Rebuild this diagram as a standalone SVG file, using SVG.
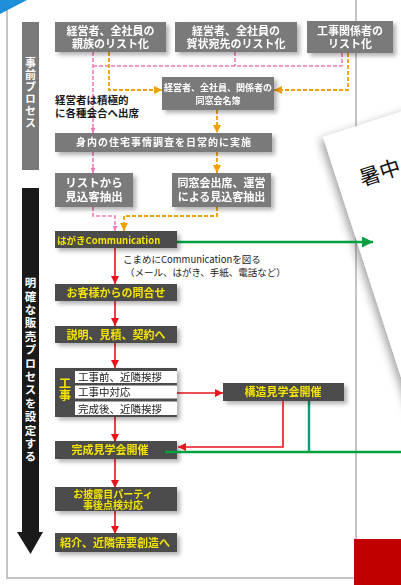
<svg xmlns="http://www.w3.org/2000/svg" width="401" height="585" viewBox="0 0 401 585">
<style>
text{font-family:"Noto Sans CJK JP","Noto Sans",sans-serif}
.g{fill:#7a7a7a}
.d{fill:#4b4b4b}
.wt{fill:#fff;font-weight:bold;text-anchor:middle}
.yt{fill:#f4e400;font-weight:bold;text-anchor:middle}
.bt{fill:#1a1a1a}
.vt{writing-mode:vertical-rl;text-anchor:start}
.pk{fill:none;stroke:#f07ab4;stroke-width:1.6;stroke-dasharray:4 2}
.or{fill:none;stroke:#f0a000;stroke-width:1.8;stroke-dasharray:4 2}
.rd{fill:none;stroke:#e8141e;stroke-width:1.6}
.gr{fill:none;stroke:#00a040;stroke-width:2.6}
.tl{fill:none;stroke:#00a078;stroke-width:2.4}
</style>
<defs>
<filter id="sh" x="-10%" y="-20%" width="130%" height="160%">
<feDropShadow dx="3" dy="3" stdDeviation="2" flood-color="#000" flood-opacity="0.3"/>
</filter>
<filter id="csh" x="-30%" y="-10%" width="160%" height="130%">
<feDropShadow dx="-4" dy="2" stdDeviation="4" flood-color="#000" flood-opacity="0.35"/>
</filter>
<marker id="ap" viewBox="0 0 10 10" refX="10" refY="5" markerWidth="5" markerHeight="5" orient="auto" markerUnits="userSpaceOnUse"><path d="M0,0 L10,5 L0,10 z" fill="#f07ab4"/></marker>
<marker id="ao" viewBox="0 0 10 10" refX="10" refY="5" markerWidth="8" markerHeight="8" orient="auto" markerUnits="userSpaceOnUse"><path d="M0,0 L10,5 L0,10 z" fill="#f0a000"/></marker>
<marker id="ar" viewBox="0 0 10 10" refX="10" refY="5" markerWidth="9" markerHeight="8" orient="auto" markerUnits="userSpaceOnUse"><path d="M0,0 L10,5 L0,10 z" fill="#e8141e"/></marker>
<marker id="ag" viewBox="0 0 10 10" refX="10" refY="5" markerWidth="17" markerHeight="11" orient="auto" markerUnits="userSpaceOnUse"><path d="M0,0 L10,5 L0,10 z" fill="#00a040"/></marker>
</defs>
<rect width="401" height="585" fill="#fff"/>
<!-- frame -->
<rect x="7" y="-10" width="349" height="588" fill="#fff" stroke="#c4c4c4" stroke-width="2"/>
<path d="M0,0 H27 L0,14 z" fill="#1e8fd8"/>

<!-- postcard -->
<g id="postcard">
<g transform="translate(323,137) rotate(-18)">
<rect x="0" y="0" width="200" height="520" fill="#fff" filter="url(#csh)"/>
<text x="22" y="59" font-size="21" fill="#111">暑中</text>
</g>
</g>
<rect x="354" y="539" width="47" height="46" fill="#c00000"/>

<!-- left bars -->
<g id="bar-pre">
<rect x="22" y="22" width="17" height="148" fill="#7a7a7a"/>
<text class="wt vt" font-size="11" letter-spacing="1" x="30.5" y="57.5">事前プロセス</text>
</g>
<g id="bar-main">
<path d="M22,188 H39 V532 H43 L30.5,554 L17,532 H22 z" fill="#1a1a1a"/>
<text class="wt vt" font-size="11.5" letter-spacing="1.9" x="30.5" y="277">明確な販売プロセスを設定する</text>
</g>

<!-- connectors -->
<g id="connectors">
<path class="pk" d="M93,52 V133" marker-end="url(#ap)"/>
<path class="pk" d="M93,66 H342 M235,52 V66 M342,53 V66"/>
<path class="pk" d="M93,152 V173" marker-end="url(#ap)"/>
<path class="pk" d="M93,207 V216 H115 V231" marker-end="url(#ap)"/>
<path class="or" d="M109,52 V90 H162" marker-end="url(#ao)"/>
<path class="or" d="M348,53 V90 H274" marker-end="url(#ao)"/>
<path class="or" d="M217,110 V133" marker-end="url(#ao)"/>
<path class="or" d="M217,152 V173" marker-end="url(#ao)"/>
<path class="or" d="M217,207 V216 H124 V231" marker-end="url(#ao)"/>
<path class="rd" d="M115,248 V284" marker-end="url(#ar)"/>
<path class="rd" d="M115,301 V326" marker-end="url(#ar)"/>
<path class="rd" d="M115,343 V368" marker-end="url(#ar)"/>
<path class="rd" d="M177,393 H223" marker-end="url(#ar)"/>
<path class="rd" d="M115,417 V442" marker-end="url(#ar)"/>
<path class="rd" d="M115,459 V488" marker-end="url(#ar)"/>
<path class="rd" d="M115,511 V534" marker-end="url(#ar)"/>
<path class="gr" d="M177,242 H373" marker-end="url(#ag)"/>
<path class="tl" d="M309,401 V452"/>
</g>

<text class="bt" font-size="10.5" font-weight="bold"><tspan x="55" y="104">経営者は積極的</tspan><tspan x="55" y="117">に各種会合へ出席</tspan></text>

<!-- nodes -->
<g id="n1" filter="url(#sh)"><rect class="g" x="55" y="22" width="111" height="30"/>
<text class="wt" font-size="11"><tspan x="110.5" y="34.5">経営者、全社員の</tspan><tspan x="110.5" y="48">親族のリスト化</tspan></text></g>
<g id="n2" filter="url(#sh)"><rect class="g" x="175" y="22" width="122" height="30"/>
<text class="wt" font-size="11"><tspan x="236" y="34.5">経営者、全社員の</tspan><tspan x="236" y="48">賀状宛先のリスト化</tspan></text></g>
<g id="n3" filter="url(#sh)"><rect class="g" x="307" y="21" width="86" height="32"/>
<text class="wt" font-size="11"><tspan x="350" y="34.5">工事関係者の</tspan><tspan x="350" y="48">リスト化</tspan></text></g>
<g id="n4" filter="url(#sh)"><rect class="g" x="162" y="77" width="112" height="33"/>
<text class="wt" font-size="9"><tspan x="218" y="91">経営者、全社員、関係者の</tspan><tspan x="218" y="104">同窓会名簿</tspan></text></g>
<g id="n5" filter="url(#sh)"><rect class="g" x="55" y="133" width="217" height="19"/>
<text class="wt" font-size="10" letter-spacing="1"><tspan x="164" y="146">身内の住宅事情調査を日常的に実施</tspan></text></g>
<g id="n6" filter="url(#sh)"><rect class="g" x="55" y="173" width="78" height="34"/>
<text class="wt" font-size="11.5"><tspan x="94" y="187">リストから</tspan><tspan x="94" y="201">見込客抽出</tspan></text></g>
<g id="n7" filter="url(#sh)"><rect class="g" x="172" y="173" width="99" height="34"/>
<text class="wt" font-size="11"><tspan x="221.5" y="187">同窓会出席、運営</tspan><tspan x="221.5" y="201">による見込客抽出</tspan></text></g>
<g id="n8" filter="url(#sh)"><rect class="d" x="55" y="231" width="122" height="17"/>
<text class="yt" font-size="9.5" style="text-anchor:start"><tspan x="57" y="243.5">はがきCommunication</tspan></text></g>
<text class="bt" font-size="9.5"><tspan x="123" y="263">こまめにCommunicationを図る</tspan><tspan x="125" y="276">（メール、はがき、手紙、電話など）</tspan></text>
<g id="n9" filter="url(#sh)"><rect class="d" x="55" y="284" width="122" height="17"/>
<text class="yt" font-size="11"><tspan x="116" y="296.5">お客様からの問合せ</tspan></text></g>
<g id="n10" filter="url(#sh)"><rect class="d" x="55" y="326" width="122" height="17"/>
<text class="yt" font-size="11"><tspan x="116" y="338.5">説明、見積、契約へ</tspan></text></g>
<g id="n11" filter="url(#sh)"><rect class="d" x="55" y="368" width="122" height="49"/>
<rect x="75" y="371" width="102" height="12" fill="#fff"/>
<rect x="75" y="385.5" width="102" height="13" fill="#fff"/>
<rect x="75" y="401.5" width="102" height="13.5" fill="#fff"/>
<text class="yt vt" font-size="12" x="65" y="377">工事</text>
<text class="bt" font-size="10.5"><tspan x="78" y="381">工事前、近隣挨拶</tspan><tspan x="78" y="396">工事中対応</tspan><tspan x="78" y="412.5">完成後、近隣挨拶</tspan></text></g>
<g id="n12" filter="url(#sh)"><rect class="d" x="223" y="383" width="121" height="18"/>
<text class="yt" font-size="11"><tspan x="283" y="396">構造見学会開催</tspan></text></g>
<g id="n13" filter="url(#sh)"><rect class="d" x="55" y="441" width="122" height="18"/>
<text class="yt" font-size="11"><tspan x="110" y="454">完成見学会開催</tspan></text></g>
<g id="n14" filter="url(#sh)"><rect class="d" x="55" y="487" width="122" height="24"/>
<text class="yt" font-size="10"><tspan x="113" y="497.5">お披露目パーティ</tspan><tspan x="113" y="509">事後点検対応</tspan></text></g>
<g id="n15" filter="url(#sh)"><rect class="d" x="55" y="533" width="122" height="19"/>
<text class="yt" font-size="11"><tspan x="115" y="546.5">紹介、近隣需要創造へ</tspan></text></g>

<g id="connectors-top">
<path class="rd" d="M283,401 V447 H178" marker-end="url(#ar)"/>
<path class="gr" d="M165,452 H401"/>
</g>
</svg>
